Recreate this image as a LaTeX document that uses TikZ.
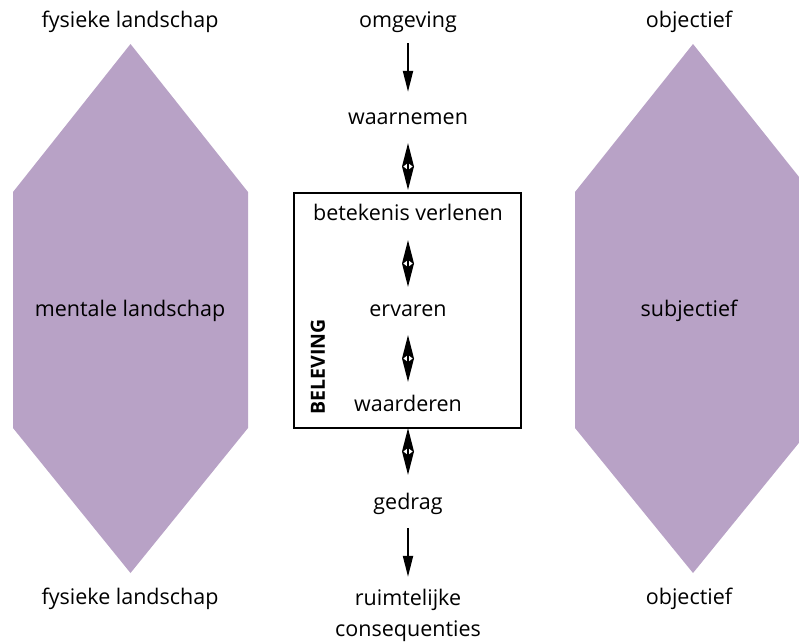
\documentclass[tikz,border=0pt]{standalone}
\usepackage{fontspec}
\setmainfont{Open Sans}
\usetikzlibrary{arrows.meta,calc}
\definecolor{lav}{HTML}{B8A2C6}
\newcommand\dbarrow[2]{%
  \fill ($(#1)$) -- ($($(#1)!.5!(#2)$)+(6,0)$) -- ($(#2)$) -- ($($(#1)!.5!(#2)$)+(-6,0)$) -- cycle;
  \pic at ($(#1)!.5!(#2)$) {wmark};}
\begin{document}
\begin{tikzpicture}[x=1pt,y=-1pt,
  lbl/.style={font=\fontsize{21.5}{25}\selectfont, inner sep=0pt, text height=13pt, text depth=4pt},
  blbl/.style={font=\fontsize{19.5}{22}\selectfont\bfseries, inner sep=0pt},
  hexa/.style={fill=lav},
  single/.style={line width=2pt, -{Triangle[length=21pt,width=10pt]}},
  boxstyle/.style={draw, line width=1.2pt},
  wmark/.pic={\fill[white] (-4.6,0) -- (-1.2,-2.6) -- (-1.2,2.6) -- cycle;
              \fill[white] (4.6,0) -- (1.2,-2.6) -- (1.2,2.6) -- cycle;}]
\useasboundingbox (0,0) rectangle (799,641);
\clip (0,0) rectangle (799,641);
% hexagons
\fill[hexa] (130.5,44) -- (248,192) -- (248,428) -- (130.5,573) -- (13,428) -- (13,192) -- cycle;
\fill[hexa] (693,44) -- (811,192) -- (811,428) -- (693,573) -- (575,428) -- (575,192) -- cycle;
% box
\draw[boxstyle] (294,193) rectangle (521,428);
% labels
\node[lbl] (fl1) at (130,22.5) {fysieke landschap};
\node[lbl] (ml) at (130,311.5) {mentale landschap};
\node[lbl] (fl2) at (130,600) {fysieke landschap};
\node[lbl] (ob1) at (689,22.5) {objectief};
\node[lbl] (sj) at (689,311.5) {subjectief};
\node[lbl] (ob2) at (689,600) {objectief};
\node[lbl] (omg) at (408,22.5) {omgeving};
\node[lbl] (waa) at (408,120) {waarnemen};
\node[lbl] (bet) at (408,215.5) {betekenis verlenen};
\node[lbl] (erv) at (408,311.5) {ervaren};
\node[lbl] (wrd) at (408,407) {waarderen};
\node[lbl] (ged) at (408,505) {gedrag};
\node[lbl] (ru1) at (408,601) {ruimtelijke};
\node[lbl] (ru2) at (408,632) {consequenties};
\node[blbl, rotate=90] (bel) at (318,367) {BELEVING};
% arrows
\draw[single] ([yshift=-12pt]omg.south) -- ([yshift=19.5pt]waa.north);
\draw[single] ([yshift=-14.5pt]ged.south) -- ([yshift=15.5pt]ru1.north);
\dbarrow{[yshift=-14.5pt]waa.south}{[yshift=17pt]bet.north}
\dbarrow{[yshift=-16pt]bet.south}{[yshift=16pt]erv.north}
\dbarrow{[yshift=-15pt]erv.south}{[yshift=16.5pt]wrd.north}
\dbarrow{[yshift=-12.5pt]wrd.south}{[yshift=21.5pt]ged.north}
\end{tikzpicture}
\end{document}
